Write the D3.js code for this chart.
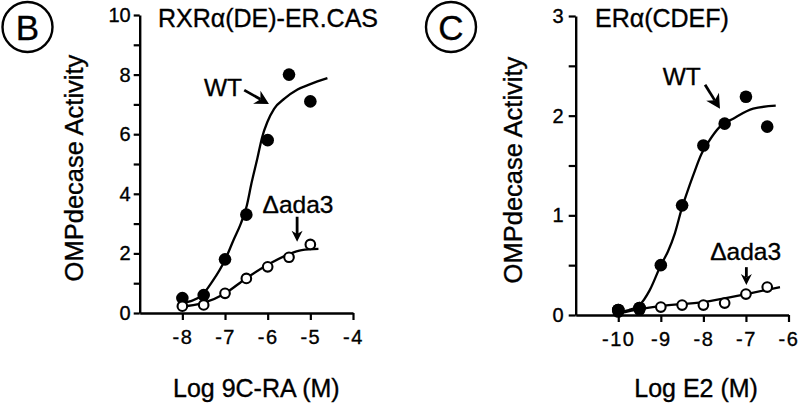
<!DOCTYPE html>
<html>
<head>
<meta charset="utf-8">
<script src="https://cdn.jsdelivr.net/npm/d3@7"></script>
<style>
  html, body { margin: 0; padding: 0; background: #fff; }
  svg { display: block; }
  text { font-family: "Liberation Sans", Arial, Helvetica, sans-serif; fill: #000; stroke: #000; stroke-width: 0.35px; }
</style>
</head>
<body>
<svg id="chart" width="800" height="411"></svg>
<script>
// ---------- Panel B data: RXRα(DE)-ER.CAS ----------
const bDoses = [-8, -7.5, -7, -6.5, -6, -5.5, -5];
const bWT = [0.5, 0.6, 1.8, 3.3, 5.8, 8.0, 7.1];
const bAda3 = [0.23, 0.27, 0.66, 1.16, 1.55, 1.87, 2.3];
// fitted curves
const bWTCurveX = [-8.05, -7.8, -7.55, -7.3, -7.0, -6.8, -6.63, -6.49, -6.38, -6.24, -6.13, -6.01, -5.85, -5.6, -5.3, -5.0, -4.6];
const bWTCurveY = [0.33, 0.40, 0.58, 1.05, 1.78, 2.45, 3.0, 3.6, 4.35, 5.2, 5.9, 6.4, 6.85, 7.2, 7.5, 7.68, 7.88];
const bAdaCurveX = [-8.06, -7.52, -7.02, -6.51, -6.01, -5.54, -5.2, -4.81];
const bAdaCurveY = [0.21, 0.33, 0.64, 1.16, 1.61, 1.95, 2.11, 2.15];
const bXTicks = [-8, -7, -6, -5, -4];
const bYTicks = [0, 1, 2, 3, 4, 5, 6, 7, 8, 9, 10];
const bYLabels = [0, 2, 4, 6, 8, 10];

// ---------- Panel C data: ERα(CDEF) ----------
const cDoses = [-10, -9.5, -9, -8.5, -8, -7.5, -7, -6.5];
const cWT = [0.05, 0.07, 0.5, 1.1, 1.7, 1.92, 2.19, 1.89];
const cAda3 = [0.03, 0.05, 0.08, 0.1, 0.1, 0.12, 0.21, 0.28];
const cWTCurveX = [-10.0, -9.75, -9.5, -9.26, -9.0, -8.83, -8.67, -8.5, -8.39, -8.24, -8.04, -7.89, -7.61, -7.3, -6.83, -6.3];
const cWTCurveY = [0.03, 0.05, 0.10, 0.25, 0.50, 0.64, 0.82, 1.08, 1.22, 1.40, 1.62, 1.73, 1.89, 1.97, 2.07, 2.10];
const cAdaCurveX = [-9.96, -9.49, -9.02, -8.0, -6.99, -6.2];
const cAdaCurveY = [0.02, 0.06, 0.09, 0.13, 0.21, 0.28];
const cXTicks = [-10, -9, -8, -7, -6];
const cYTicks = [0, 0.5, 1, 1.5, 2, 2.5, 3];
const cYLabels = [0, 1, 2, 3];

const svg = d3.select("#chart");

function panel(cfg) {
  const x = d3.scaleLinear().domain(cfg.xDomain).range(cfg.xRange);
  const y = d3.scaleLinear().domain(cfg.yDomain).range(cfg.yRange);
  const g = svg.append("g");

  // axes
  const yAxis = d3.axisLeft(y).tickValues(cfg.yTicks).tickSize(cfg.yTickLen).tickSizeOuter(0)
    .tickPadding(cfg.yPad)
    .tickFormat(d => cfg.yLabels.includes(d) ? d3.format("d")(d) : "");
  const xAxis = d3.axisBottom(x).tickValues(cfg.xTicks).tickSize(7).tickSizeOuter(0)
    .tickPadding(10).tickFormat(d => d3.format("d")(d).replace("−", "-"));

  const ga = g.append("g").attr("transform", `translate(${cfg.xRange[0]},0)`).call(yAxis);
  const gx = g.append("g").attr("transform", `translate(0,${cfg.yRange[0]})`).call(xAxis);
  [ga, gx].forEach(a => {
    a.select(".domain").attr("stroke", "#000").attr("stroke-width", 2.4);
    a.selectAll(".tick line").attr("stroke", "#000").attr("stroke-width", 2.2);
    a.selectAll(".tick text").attr("font-size", 20).attr("font-family", "Liberation Sans, Arial, sans-serif")
      .attr("fill", "#000").attr("stroke", "#000").attr("stroke-width", 0.35);
  });
  gx.selectAll(".tick text").attr("letter-spacing", 1.5);

  // curves
  const line = d3.line().x(d => x(d[0])).y(d => y(d[1])).curve(d3.curveMonotoneX);
  [[cfg.wtCx, cfg.wtCy], [cfg.adaCx, cfg.adaCy]].forEach(([cx, cy]) => {
    g.append("path").datum(cx.map((v, i) => [v, cy[i]]))
      .attr("d", line).attr("fill", "none").attr("stroke", "#000").attr("stroke-width", 2.3);
  });

  // points
  g.selectAll(".wt").data(cfg.doses.map((d, i) => [d, cfg.wt[i]])).enter().append("circle")
    .attr("cx", d => x(d[0])).attr("cy", d => y(d[1])).attr("r", 6.3).attr("fill", "#000");
  g.selectAll(".ada").data(cfg.doses.map((d, i) => [d, cfg.ada[i]])).enter().append("circle")
    .attr("cx", d => x(d[0])).attr("cy", d => y(d[1])).attr("r", 4.8)
    .attr("fill", "#fff").attr("stroke", "#000").attr("stroke-width", 2.1);
  if (cfg.wtOnTop) {
    g.selectAll(".wt2").data(cfg.doses.slice(0, 2).map((d, i) => [d, cfg.wt[i]])).enter().append("circle")
      .attr("cx", d => x(d[0])).attr("cy", d => y(d[1])).attr("r", 6.3).attr("fill", "#000");
  }

  // title
  g.append("text").attr("x", cfg.titleX).attr("y", 27).attr("font-size", 25).text(cfg.title);
  // y label
  g.append("text").attr("transform", `translate(${cfg.yLabelX},${cfg.yLabelY}) rotate(-90)`)
    .attr("text-anchor", "middle").attr("font-size", 25.5).text("OMPdecase Activity");
  // x label
  g.append("text").attr("x", (cfg.xRange[0] + cfg.xRange[1]) / 2 + cfg.xLabelDx).attr("y", 397)
    .attr("text-anchor", "middle").attr("font-size", 25).text(cfg.xLabel);

  // panel letter in circle
  g.append("circle").attr("cx", cfg.letterX).attr("cy", 27).attr("r", 25)
    .attr("fill", "none").attr("stroke", "#000").attr("stroke-width", 2.4);
  g.append("text").attr("x", cfg.letterX).attr("y", 40).attr("text-anchor", "middle")
    .attr("font-size", 35).text(cfg.letter);

  // annotations (positions in data units)
  const a = cfg.ann;
  g.append("text").attr("x", x(a.wtLabel[0])).attr("y", y(a.wtLabel[1])).attr("text-anchor", "end")
    .attr("font-size", 24.5).text("WT");
  g.append("text").attr("x", x(a.adaLabel[0])).attr("y", y(a.adaLabel[1]))
    .attr("font-size", 24.5).text("Δada3");
  arrow(g, x(a.wtArrow[0]), y(a.wtArrow[1]), x(a.wtArrow[2]), y(a.wtArrow[3]), 14, 7.5);
  arrow(g, x(a.adaArrow[0]), y(a.adaArrow[1]), x(a.adaArrow[0]), y(a.adaArrow[2]), 11, 5.5);
}

function arrow(g, x1, y1, x2, y2, headLen, headHalf) {
  const ang = Math.atan2(y2 - y1, x2 - x1);
  const bx = x2 - headLen * Math.cos(ang), by = y2 - headLen * Math.sin(ang);
  const nx = -Math.sin(ang), ny = Math.cos(ang);
  const ix = x2 - headLen * 0.7 * Math.cos(ang), iy = y2 - headLen * 0.7 * Math.sin(ang);
  g.append("line").attr("x1", x1).attr("y1", y1).attr("x2", ix).attr("y2", iy)
    .attr("stroke", "#000").attr("stroke-width", 2.8);
  g.append("path")
    .attr("d", `M${x2},${y2}L${bx + nx * headHalf},${by + ny * headHalf}L${ix},${iy}L${bx - nx * headHalf},${by - ny * headHalf}Z`)
    .attr("fill", "#000");
}

panel({
  xDomain: [-9, -4], xRange: [139.7, 353],
  yDomain: [0, 10], yRange: [313, 15],
  xTicks: bXTicks, yTicks: bYTicks, yLabels: bYLabels, yTickLen: 6, yPad: 3,
  doses: bDoses, wt: bWT, ada: bAda3,
  wtCx: bWTCurveX, wtCy: bWTCurveY, adaCx: bAdaCurveX, adaCy: bAdaCurveY,
  title: "RXRα(DE)-ER.CAS", titleX: 158,
  yLabelX: 83, yLabelY: 168, xLabel: "Log 9C-RA (M)", xLabelDx: 10,
  letter: "B", letterX: 27.5,
  ann: { wtLabel: [-6.6, 7.28], adaLabel: [-6.12, 3.36],
         wtArrow: [-6.55, 7.48, -5.97, 7.01], adaArrow: [-5.31, 3.23, 2.39] }
});

panel({
  xDomain: [-11, -6], xRange: [575.7, 788.5],
  yDomain: [0, 3], yRange: [315, 16],
  xTicks: cXTicks, yTicks: cYTicks, yLabels: cYLabels, yTickLen: 7, yPad: 5,
  doses: cDoses, wt: cWT, ada: cAda3,
  wtCx: cWTCurveX, wtCy: cWTCurveY, adaCx: cAdaCurveX, adaCy: cAdaCurveY, wtOnTop: true,
  title: "ERα(CDEF)", titleX: 595,
  yLabelX: 522, yLabelY: 170, xLabel: "Log E2 (M)", xLabelDx: 14,
  letter: "C", letterX: 451,
  ann: { wtLabel: [-8.06, 2.31], adaLabel: [-7.84, 0.55],
         wtArrow: [-7.96, 2.31, -7.61, 2.07], adaArrow: [-6.99, 0.48, 0.30] }
});
</script>
</body>
</html>
